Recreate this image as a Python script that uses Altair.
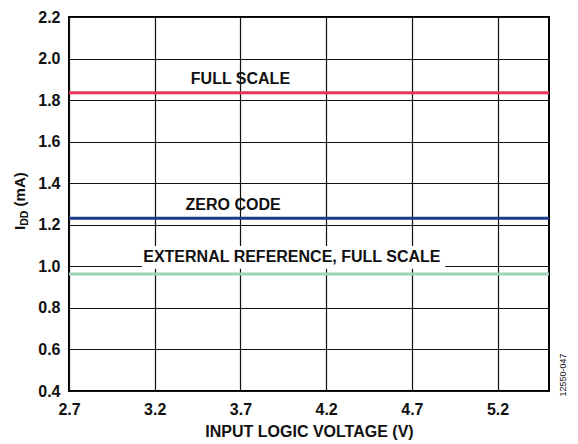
import altair as alt
import pandas as pd

# Data
x_range = [2.7, 5.5]
series_names = ["FULL SCALE", "ZERO CODE", "EXTERNAL REFERENCE, FULL SCALE"]
series_values = [1.835, 1.231, 0.963]
series_colors = ["#E8335A", "#1B3A8A", "#9AD3B5"]
x_ticks = [2.7, 3.2, 3.7, 4.2, 4.7, 5.2]
y_ticks = [0.4, 0.6, 0.8, 1.0, 1.2, 1.4, 1.6, 1.8, 2.0, 2.2]

label_x = [3.70, 3.657, 4.0]
label_y = [1.902, 1.293, 1.045]

FONT = "Liberation Sans"

rows = []
for n, v in zip(series_names, series_values):
    for xv in x_range:
        rows.append({"series": n, "v": xv, "idd": v})
lines_df = pd.DataFrame(rows)

lab_df = pd.DataFrame({"text": series_names, "x": label_x, "y": label_y})
box_df = pd.DataFrame({"x": [3.125], "x2": [4.895], "y": [1.098], "y2": [0.988]})

xs = alt.Scale(domain=[2.7, 5.5], nice=False, zero=False)
ys = alt.Scale(domain=[0.4, 2.2], nice=False, zero=False)

base_x = alt.X("v:Q", scale=xs, axis=alt.Axis(
    values=x_ticks, title="INPUT LOGIC VOLTAGE (V)", format=".1f",
    grid=True, gridColor="#111111", gridWidth=1.2, ticks=False, domain=False,
    labelFont=FONT, labelFontSize=16, labelFontWeight="bold", labelColor="#111",
    labelPadding=10, labelFlush=False,
    titleFont=FONT, titleFontSize=16, titleFontWeight="bold", titleColor="#111",
    titlePadding=6))
base_y = alt.Y("idd:Q", scale=ys, axis=alt.Axis(
    values=y_ticks, title=None, format=".1f",
    grid=True, gridColor="#111111", gridWidth=1.2, ticks=False, domain=False,
    labelFont=FONT, labelFontSize=16, labelFontWeight="bold", labelColor="#111",
    labelPadding=9))

grid_layer = alt.Chart(lines_df).mark_line(opacity=0).encode(x=base_x, y=base_y)

lines = alt.Chart(lines_df).mark_line(strokeWidth=3).encode(
    x=alt.X("v:Q", scale=xs),
    y=alt.Y("idd:Q", scale=ys),
    color=alt.Color("series:N", scale=alt.Scale(domain=series_names, range=series_colors), legend=None),
    detail="series:N",
)

box = alt.Chart(box_df).mark_rect(color="white").encode(
    x=alt.X("x:Q", scale=xs), x2="x2:Q",
    y=alt.Y("y:Q", scale=ys), y2="y2:Q")

labels = alt.Chart(lab_df).mark_text(font=FONT, fontSize=16, fontWeight="bold", color="#111",
                                      baseline="middle", align="center").encode(
    x=alt.X("x:Q", scale=xs), y=alt.Y("y:Q", scale=ys), text="text:N")

# y axis title with subscript
t1 = alt.Chart(pd.DataFrame({"t": ["I"]})).mark_text(
    font=FONT, fontSize=15, fontWeight="bold", color="#111", angle=270, align="left",
    baseline="alphabetic").encode(x=alt.value(-44), y=alt.value(213), text="t:N")
t2 = alt.Chart(pd.DataFrame({"t": ["DD"]})).mark_text(
    font=FONT, fontSize=10.5, fontWeight="bold", color="#111", angle=270, align="left",
    baseline="alphabetic").encode(x=alt.value(-41), y=alt.value(208.8), text="t:N")
t3 = alt.Chart(pd.DataFrame({"t": ["(mA)"]})).mark_text(
    font=FONT, fontSize=15, fontWeight="bold", color="#111", angle=270, align="left",
    baseline="alphabetic").encode(x=alt.value(-44), y=alt.value(189.4), text="t:N")
code = alt.Chart(pd.DataFrame({"t": ["12550-047"]})).mark_text(
    font=FONT, fontSize=9, color="#111", angle=270, align="center",
    baseline="middle").encode(x=alt.value(494), y=alt.value(358), text="t:N")

chart = alt.layer(grid_layer, box, lines, labels, t1, t2, t3, code).properties(
    width=480, height=374,
    autosize=alt.AutoSizeParams(type="none"),
    padding={"left": 61, "top": 9, "right": 21, "bottom": 53},
).configure_view(stroke="#000", strokeWidth=2)

chart.save("out.html", embed_options={"renderer": "svg", "actions": False})
